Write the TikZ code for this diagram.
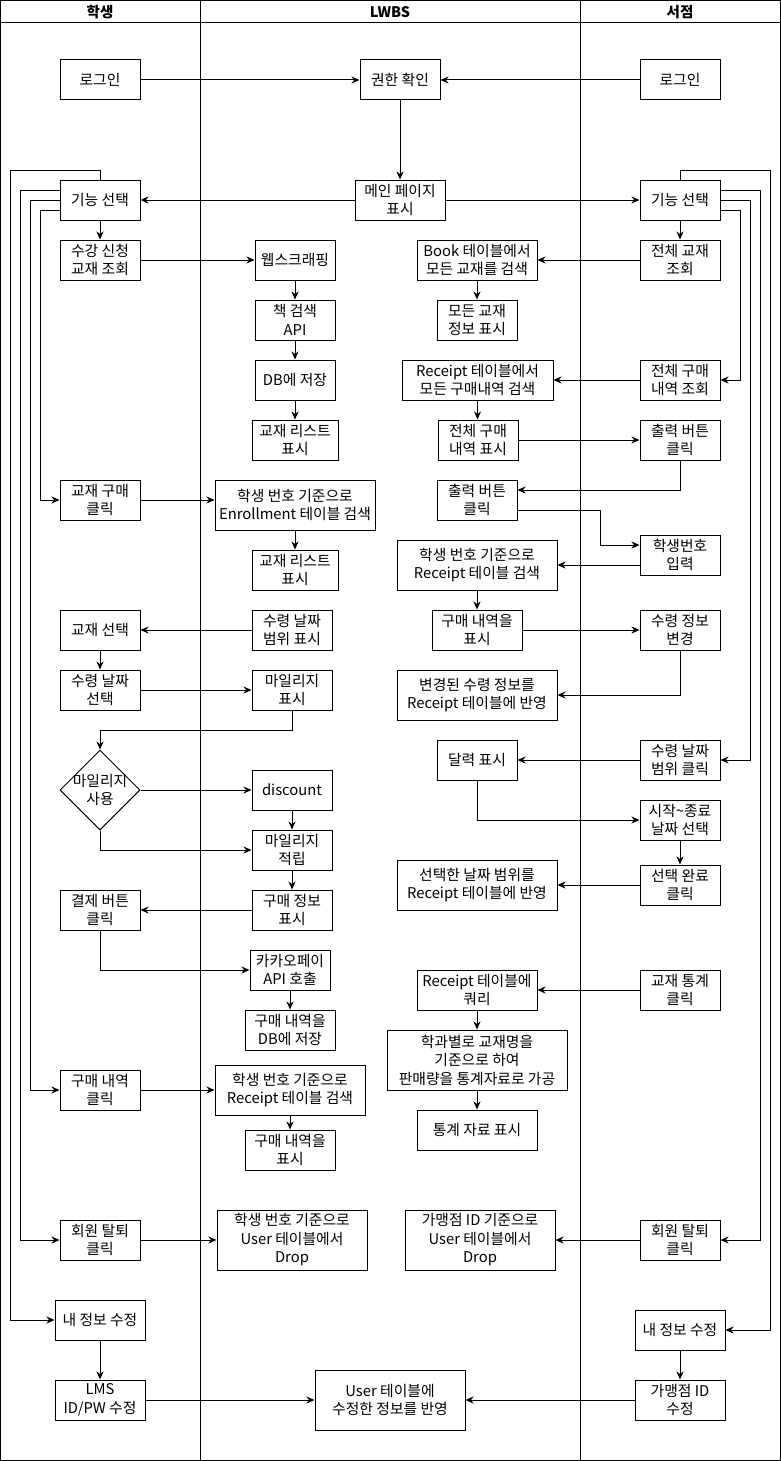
\documentclass[tikz,border=0pt]{standalone}
\usepackage{fontspec}
\setmainfont{Noto Sans CJK KR}
\usetikzlibrary{arrows.meta,shapes.geometric,calc}
\tikzset{
  box/.style={draw, line width=1pt, inner sep=0pt, minimum width=80pt, minimum height=40pt, align=center, font=\fontsize{14.8}{18.5}\selectfont},
  txt/.style={inner sep=0pt, align=center, font=\fontsize{14.8}{18.5}\selectfont},
  hdr/.style={inner sep=0pt, font=\fontsize{14.5}{16}\selectfont\bfseries},
  arr/.style={-{Stealth[length=8pt,width=7pt,inset=2.5pt]}, line width=1pt},
  ln/.style={line width=1pt}
}
\begin{document}
\begin{tikzpicture}[x=1pt,y=-1pt]
\useasboundingbox (0,0) rectangle (781,1461);
% pool
\draw[ln] (0.5,0.5) rectangle (780.5,1460.5);
\draw[ln] (0.5,23) -- (780.5,23);
\draw[ln] (200.5,0.5) -- (200.5,1460.5);
\draw[ln] (580.5,0.5) -- (580.5,1460.5);
\node[hdr] (h1) at (100,12) {학생};
\node[hdr] (h2) at (390,12) {LWBS};
\node[hdr] (h3) at (680,12) {서점};

% student lane
\node[box] (sLogin) at (100,80) {로그인};
\node[box] (sFunc) at (100,200) {기능 선택};
\node[box] (sCourse) at (100,260) {수강 신청\\교재 조회};
\node[box] (sBuy) at (100,500) {교재 구매\\클릭};
\node[box] (sSel) at (100,630) {교재 선택};
\node[box] (sDate) at (100,690) {수령 날짜\\선택};
\node[draw, line width=1pt, diamond, aspect=1, minimum width=80pt, minimum height=80pt, inner sep=0pt] (sDia) at (100,790) {};
\node[txt] (sDiaT) at (100,790) {마일리지\\사용};
\node[box] (sPay) at (100,910) {결제 버튼\\클릭};
\node[box] (sHist) at (100,1090) {구매 내역\\클릭};
\node[box] (sQuit) at (100,1240) {회원 탈퇴\\클릭};
\node[box, minimum width=90pt] (sEdit) at (100,1320) {내 정보 수정};
\node[box, minimum width=90pt] (sLMS) at (100,1400) {LMS\\ID/PW 수정};

% LWBS lane, left column
\node[box] (mAuth) at (400,80) {권한 확인};
\node[box, minimum width=90pt] (mMain) at (400,200) {메인 페이지\\표시};
\node[box] (mScrap) at (295,260) {웹스크래핑};
\node[box] (mAPI) at (295,320) {책 검색\\API};
\node[box] (mDB) at (295,380) {DB에 저장};
\node[box, minimum width=86pt] (mList) at (295,440) {교재 리스트\\표시};
\node[box, minimum width=160pt, minimum height=50pt] (mEnr) at (295,505) {학생 번호 기준으로\\Enrollment 테이블 검색};
\node[box, minimum width=86pt] (mList2) at (295,570) {교재 리스트\\표시};
\node[box] (mRange) at (292,630) {수령 날짜\\범위 표시};
\node[box] (mMile) at (292,690) {마일리지\\표시};
\node[box] (mDisc) at (292,790) {discount};
\node[box] (mAcc) at (292,850) {마일리지\\적립};
\node[box] (mInfo) at (292,910) {구매 정보\\표시};
\node[box] (mKakao) at (290,970) {카카오페이\\API 호출};
\node[box, minimum width=90pt] (mSave) at (290,1030) {구매 내역을\\DB에 저장};
\node[box, minimum width=150pt, minimum height=50pt] (mRcpt) at (290,1090) {학생 번호 기준으로\\Receipt 테이블 검색};
\node[box, minimum width=90pt] (mShow) at (290,1150) {구매 내역을\\표시};
\node[box, minimum width=150pt, minimum height=60pt] (mDrop) at (292,1240) {학생 번호 기준으로\\User 테이블에서\\Drop};
\node[box, minimum width=150pt, minimum height=60pt] (mUser) at (390,1400) {User 테이블에\\수정한 정보를 반영};

% LWBS lane, right column
\node[box, minimum width=120pt] (bBook) at (477,260) {Book 테이블에서\\모든 교재를 검색};
\node[box] (bAll) at (477,320) {모든 교재\\정보 표시};
\node[box, minimum width=151pt] (bRcptAll) at (477.5,380) {Receipt 테이블에서\\모든 구매내역 검색};
\node[box] (bShowAll) at (478,440) {전체 구매\\내역 표시};
\node[box] (bPrint) at (477,500) {출력 버튼\\클릭};
\node[box, minimum width=160pt, minimum height=50pt] (bRcpt) at (477,565) {학생 번호 기준으로\\Receipt 테이블 검색};
\node[box, minimum width=90pt] (bHist) at (477,630) {구매 내역을\\표시};
\node[box, minimum width=160pt, minimum height=50pt] (bChg) at (477,695) {변경된 수령 정보를\\Receipt 테이블에 반영};
\node[box] (bCal) at (477,760) {달력 표시};
\node[box, minimum width=160pt, minimum height=50pt] (bSel) at (477,885) {선택한 날짜 범위를\\Receipt 테이블에 반영};
\node[box, minimum width=120pt] (bQuery) at (477,990) {Receipt 테이블에\\쿼리};
\node[box, minimum width=180pt, minimum height=60pt] (bStat) at (477,1060) {학과별로 교재명을\\기준으로 하여\\판매량을 통계자료로 가공};
\node[box, minimum width=120pt] (bStatShow) at (477,1130) {통계 자료 표시};
\node[box, minimum width=150pt, minimum height=60pt] (bDrop) at (480,1240) {가맹점 ID 기준으로\\User 테이블에서\\Drop};

% store lane
\node[box] (rLogin) at (680,80) {로그인};
\node[box] (rFunc) at (680,200) {기능 선택};
\node[box] (rAll) at (680,260) {전체 교재\\조회};
\node[box] (rRcpt) at (680,380) {전체 구매\\내역 조회};
\node[box] (rPrint) at (680,440) {출력 버튼\\클릭};
\node[box] (rNum) at (680,555) {학생번호\\입력};
\node[box] (rChg) at (680,630) {수령 정보\\변경};
\node[box] (rRange) at (680,760) {수령 날짜\\범위 클릭};
\node[box] (rStart) at (680,820) {시작\textasciitilde 종료\\날짜 선택};
\node[box] (rDone) at (680,885) {선택 완료\\클릭};
\node[box] (rStat) at (680,990) {교재 통계\\클릭};
\node[box] (rQuit) at (680,1240) {회원 탈퇴\\클릭};
\node[box, minimum width=90pt] (rEdit) at (680,1330) {내 정보 수정};
\node[box, minimum width=90pt] (rID) at (680,1400) {가맹점 ID\\수정};

% connectors: top
\draw[arr] (sLogin.east) -- (mAuth.west);
\draw[arr] (rLogin.west) -- (mAuth.east);
\draw[arr] (mAuth.south) -- (mMain.north);
\draw[arr] (mMain.west) -- (sFunc.east);
\draw[arr] (mMain.east) -- (rFunc.west);

% student loops
\draw[arr] (sFunc.north) |- (10,170) |- (sEdit.west);
\draw[arr] ($(sFunc.west)+(0,-10)$) -- (20,190) |- (sQuit.west);
\draw[arr] (sFunc.west) -- (30,200) |- (sHist.west);
\draw[arr] ($(sFunc.west)+(0,10)$) -- (40,210) |- (sBuy.west);
\draw[arr] (sFunc.south) -- (sCourse.north);

% student flows
\draw[arr] (sCourse.east) -- (mScrap.west);
\draw[arr] (mScrap.south) -- (mAPI.north);
\draw[arr] (mAPI.south) -- (mDB.north);
\draw[arr] (mDB.south) -- (mList.north);
\draw[arr] (sBuy.east) -- (sBuy.east -| mEnr.west);
\draw[arr] (mEnr.south) -- (mList2.north);
\draw[arr] (mRange.west) -- (sSel.east);
\draw[arr] (sSel.south) -- (sDate.north);
\draw[arr] (sDate.east) -- (mMile.west);
\draw[arr] (mMile.south) -- ++(0,20) -| (sDia.north);
\draw[arr] (sDia.east) -- (mDisc.west);
\draw[arr] (sDia.south) |- (mAcc.west);
\draw[arr] (mDisc.south) -- (mAcc.north);
\draw[arr] (mAcc.south) -- (mInfo.north);
\draw[arr] (mInfo.west) -- (sPay.east);
\draw[arr] (sPay.south) |- (mKakao.west);
\draw[arr] (mKakao.south) -- (mSave.north);
\draw[arr] (sHist.east) -- (mRcpt.west);
\draw[arr] (mRcpt.south) -- (mShow.north);
\draw[arr] (sQuit.east) -- (mDrop.west);
\draw[arr] (sEdit.south) -- (sLMS.north);
\draw[arr] (sLMS.east) -- (mUser.west);

% store loops
\draw[arr] (rFunc.north) |- (770,170) |- (rEdit.east);
\draw[arr] ($(rFunc.east)+(0,-10)$) -- (760,190) |- (rQuit.east);
\draw[arr] (rFunc.east) -- (750,200) |- (rRange.east);
\draw[arr] ($(rFunc.east)+(0,10)$) -- (740,210) |- (rRcpt.east);
\draw[arr] (rFunc.south) -- (rAll.north);

% store flows
\draw[arr] (rAll.west) -- (bBook.east);
\draw[arr] (bBook.south) -- (bAll.north);
\draw[arr] (rRcpt.west) -- (bRcptAll.east);
\draw[arr] (bRcptAll.south) -- (bRcptAll.south |- bShowAll.north);
\draw[arr] (bShowAll.east) -- (rPrint.west);
\draw[arr] (rPrint.south) |- ($(bPrint.east)+(0,-10)$);
\coordinate (k1) at (600,545);
\draw[arr] ($(bPrint.east)+(0,10)$) -| (k1) -- ($(rNum.west)+(0,-10)$);
\draw[arr] ($(rNum.west)+(0,10)$) -- (bRcpt.east);
\draw[arr] (bRcpt.south) -- (bHist.north);
\draw[arr] (bHist.east) -- (rChg.west);
\draw[arr] (rChg.south) |- (bChg.east);
\draw[arr] (rRange.west) -- (bCal.east);
\draw[arr] (bCal.south) |- (rStart.west);
\draw[arr] (rStart.south) -- (rDone.north);
\draw[arr] (rDone.west) -- (bSel.east);
\draw[arr] (rStat.west) -- (bQuery.east);
\draw[arr] (bQuery.south) -- (bStat.north);
\draw[arr] (bStat.south) -- (bStatShow.north);
\draw[arr] (rQuit.west) -- (bDrop.east);
\draw[arr] (rEdit.south) -- (rID.north);
\draw[arr] (rID.west) -- (mUser.east);
\end{tikzpicture}
\end{document}
